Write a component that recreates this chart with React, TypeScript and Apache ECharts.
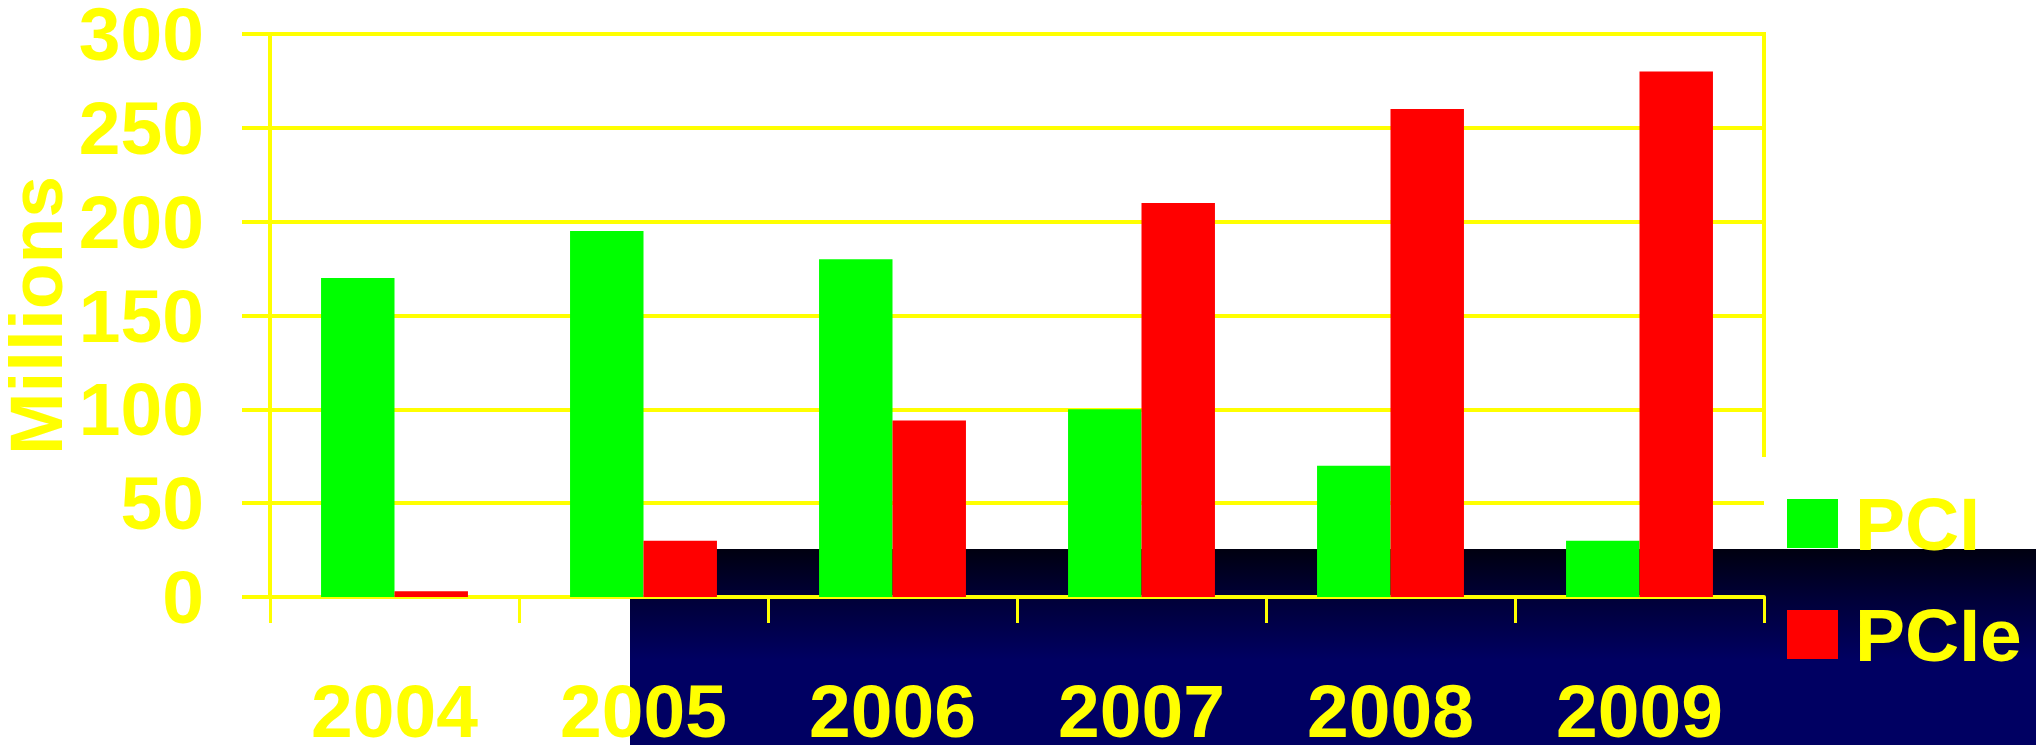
import React, { useEffect, useRef } from "react";
import * as echarts from "echarts";

const categories = ["2004", "2005", "2006", "2007", "2008", "2009"];
const pciValues = [170, 195, 180, 100, 70, 30];
const pcieValues = [3, 30, 94, 210, 260, 280];
const yTicks = { min: 0, max: 300, interval: 50 };

const YELLOW = "#FFFF00";
const FONT = "'Liberation Sans', Arial, sans-serif";
const FS = 75;

export default function App() {
  const ref = useRef<HTMLDivElement>(null);
  useEffect(() => {
    if (!ref.current) return;
    const chart = echarts.init(ref.current, undefined, { renderer: "svg" });
    const grad = {
      type: "linear",
      x: 0,
      y: 549,
      x2: 0,
      y2: 660,
      global: true,
      colorStops: [
        { offset: 0, color: "#000010" },
        { offset: 0.45, color: "#000038" },
        { offset: 1, color: "#000062" },
      ],
    };
    chart.setOption({
      animation: false,
      backgroundColor: "#ffffff",
      textStyle: { fontFamily: FONT },
      grid: {
        left: 270,
        right: 272,
        top: 34,
        bottom: 148,
        containLabel: false,
        outerBoundsMode: "none",
      },
      graphic: [
        {
          type: "rect",
          z: -10,
          silent: true,
          shape: { x: 713, y: 549, width: 1323, height: 48 },
          style: { fill: grad },
        },
        {
          type: "rect",
          z: -10,
          silent: true,
          shape: { x: 630, y: 597, width: 1406, height: 148 },
          style: { fill: grad },
        },
        {
          type: "line",
          z: 5,
          silent: true,
          shape: { x1: 1764, y1: 32, x2: 1764, y2: 457 },
          style: { stroke: YELLOW, lineWidth: 4 },
        },
      ],
      legend: {
        orient: "vertical",
        left: 1787,
        top: 486,
        padding: 0,
        itemWidth: 51,
        itemHeight: 49,
        itemGap: 36,
        icon: "rect",
        data: ["PCI", "PCIe"],
        textStyle: {
          color: YELLOW,
          fontSize: FS,
          fontWeight: "bold",
          fontFamily: FONT,
          lineHeight: 72,
          padding: [0, 0, 0, 12],
        },
      },
      xAxis: {
        type: "category",
        data: categories,
        axisLine: { show: true, lineStyle: { color: YELLOW, width: 4 } },
        axisTick: { show: true, length: 26, lineStyle: { color: YELLOW, width: 3 } },
        axisLabel: {
          color: YELLOW,
          fontSize: FS,
          fontWeight: "bold",
          fontFamily: FONT,
          lineHeight: 62,
          margin: 83,
        },
      },
      yAxis: {
        type: "value",
        min: yTicks.min,
        max: yTicks.max,
        interval: yTicks.interval,
        name: "Millions",
        nameLocation: "middle",
        nameRotate: 90,
        nameGap: 203,
        nameMoveOverlap: false,
        nameTextStyle: {
          color: YELLOW,
          fontSize: FS,
          fontWeight: "bold",
          fontFamily: FONT,
          lineHeight: 62,
        },
        axisLine: { show: true, lineStyle: { color: YELLOW, width: 4 } },
        axisTick: { show: true, length: 28, lineStyle: { color: YELLOW, width: 4 } },
        axisLabel: {
          color: YELLOW,
          fontSize: FS,
          fontWeight: "bold",
          fontFamily: FONT,
          lineHeight: 62,
          margin: 66,
          padding: [5, 0, 0, 0],
        },
        splitLine: { show: true, lineStyle: { color: YELLOW, width: 4 } },
      },
      series: [
        {
          name: "PCI",
          type: "bar",
          data: pciValues,
          barGap: "0%",
          barCategoryGap: "41%",
          itemStyle: { color: "#00FF00" },
        },
        {
          name: "PCIe",
          type: "bar",
          data: pcieValues,
          barGap: "0%",
          barCategoryGap: "41%",
          itemStyle: { color: "#FF0000" },
        },
      ],
    });
    return () => chart.dispose();
  }, []);
  return (
    <div
      ref={ref}
      style={{ position: "fixed", left: 0, top: 0, width: 2036, height: 745 }}
    />
  );
}
